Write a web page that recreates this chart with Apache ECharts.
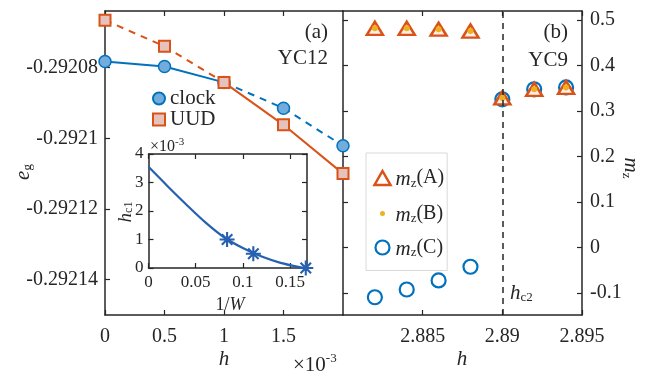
<!DOCTYPE html>
<html>
<head>
<meta charset="utf-8">
<script src="https://cdn.jsdelivr.net/npm/echarts@6/dist/echarts.min.js"></script>
<style>
  html, body { margin: 0; padding: 0; background: #fff; }
  #main { width: 657px; height: 373px; }
</style>
</head>
<body>
<div id="main"></div>
<script>
// panel (a): ground-state energy vs h (x 1e-3)
var hLeft = [0, 0.5, 1, 1.5, 2];
var egClock = [-0.2920783, -0.2920797, -0.2920842, -0.2920915, -0.2921021];
var egUUD = [-0.2920666, -0.2920740, -0.2920842, -0.2920962, -0.2921100];
var egTicks = [-0.29214, -0.29212, -0.2921, -0.29208];
var hLeftTicks = [0, 0.5, 1, 1.5];

// inset: hc1 vs 1/W
var invW = [0.0833, 0.1111, 0.1667];
var hc1 = [1.0, 0.5, 0.0];
var fitX = [0, 0.02, 0.04, 0.06, 0.08, 0.10, 0.12, 0.14, 0.16, 0.1667];
var fitY = [3.55, 2.88, 2.23, 1.61, 1.08, 0.70, 0.40, 0.18, 0.03, 0.0];
var invWTicks = [0, 0.05, 0.1, 0.15];
var hc1Ticks = [0, 1, 2, 3, 4];

// panel (b): mz vs h
var hRight = [2.882, 2.884, 2.886, 2.888, 2.89, 2.892, 2.894];
var mzA = [0.482, 0.482, 0.480, 0.476, 0.329, 0.348, 0.352];
var mzB = [0.482, 0.482, 0.480, 0.476, 0.329, 0.348, 0.352];
var mzC = [-0.109, -0.092, -0.072, -0.042, 0.326, 0.348, 0.352];
var hc2 = 2.89;
var hRightTicks = [2.885, 2.89, 2.895];
var mzTicks = [-0.1, 0, 0.1, 0.2, 0.3, 0.4, 0.5];

var FONT = 'Liberation Serif';
var INK = '#262626';
var BLUE = '#0072BD';
var RED = '#D95319';
var YEL = '#EDB120';

function pairs(xs, ys) {
  return xs.map(function (x, i) { return [x, ys[i]]; });
}
function fmt(v) { return String(parseFloat(v.toFixed(5))); }

// one side of an axis box
function axis(grid, pos, min, max, ticks, showLabel, fontSize) {
  return {
    type: 'value', gridIndex: grid, position: pos, min: min, max: max,
    axisLine: { show: true, onZero: false, lineStyle: { color: INK, width: 1.5 } },
    axisTick: { show: true, inside: true, length: 5, customValues: ticks,
      lineStyle: { color: INK, width: 1.2 } },
    axisLabel: { show: showLabel, customValues: ticks, formatter: fmt,
      fontFamily: FONT, fontSize: fontSize || 20, color: INK, margin: 8 },
    splitLine: { show: false }
  };
}

var xAxes = [
  axis(0, 'bottom', 0, 2, hLeftTicks, true),
  axis(0, 'top', 0, 2, hLeftTicks, false),
  axis(1, 'bottom', 2.88, 2.895, hRightTicks, true),
  axis(1, 'top', 2.88, 2.895, hRightTicks, false),
  axis(2, 'bottom', 0, 0.168, invWTicks, true, 17),
  axis(2, 'top', 0, 0.168, invWTicks, false)
];
xAxes[0].axisLabel.margin = 12;
xAxes[2].axisLabel.margin = 12;
xAxes[4].axisLabel.margin = 6;

var yAxes = [
  axis(0, 'left', -0.29215, -0.292064, egTicks, true),
  axis(1, 'left', -0.148, 0.52, mzTicks, false),
  axis(1, 'right', -0.148, 0.52, mzTicks, true),
  axis(2, 'left', 0, 4, hc1Ticks, true, 17),
  axis(2, 'right', 0, 4, hc1Ticks, false)
];
yAxes[0].axisLabel.margin = 7;
yAxes[3].axisLabel.margin = 5;

var sub = { fontFamily: FONT, fontSize: 13, color: INK, verticalAlign: 'bottom', lineHeight: 13 };
var ital = { fontFamily: FONT, fontSize: 21, fontStyle: 'italic', color: INK, lineHeight: 24, verticalAlign: 'bottom' };
var norm = { fontFamily: FONT, fontSize: 21, color: INK, lineHeight: 24, verticalAlign: 'bottom' };

// asterisk marker, four bars of the same winding
var STAR = 'path://M8.6 0H11.4V20H8.6Z M0 8.6H20V11.4H0Z M2 4L4 2L18 16L16 18Z M16 2L18 4L4 18L2 16Z';

function txt(x, y, text, rich, align, rot) {
  return {
    type: 'text', x: x, y: y, rotation: rot || 0, z: 50,
    style: { text: text, rich: rich, align: align || 'center', verticalAlign: 'middle',
      fontFamily: FONT, fontSize: 21, fill: INK }
  };
}

var chart = echarts.init(document.getElementById('main'));
var option = {
  animation: false,
  backgroundColor: '#fff',
  grid: [
    { left: 105, top: 11, width: 238, height: 304 },
    { left: 343, top: 11, width: 239, height: 304 },
    { left: 148.5, top: 154, width: 158.5, height: 114, show: true,
      backgroundColor: '#fff', borderWidth: 0 }
  ],
  xAxis: xAxes,
  yAxis: yAxes,
  legend: [
    {
      orient: 'vertical', left: 152, top: 88, padding: 0, itemGap: 0,
      itemWidth: 12, itemHeight: 12,
      textStyle: { fontFamily: FONT, fontSize: 21, color: INK, lineHeight: 20 },
      data: ['clock', 'UUD']
    },
    {
      orient: 'vertical', left: 366, top: 153, padding: [15, 3, 11, 5], itemGap: 12,
      itemWidth: 16, itemHeight: 14, backgroundColor: '#fff',
      borderColor: '#d9d9d9', borderWidth: 1, borderRadius: 0,
      formatter: function (n) { return '{i|m}{s|z}(' + n + ')'; },
      textStyle: { fontFamily: FONT, fontSize: 20, color: INK,
        rich: { i: ital, s: sub } },
      data: [
        { name: 'A', icon: 'triangle', itemStyle: { color: '#fff', borderColor: RED, borderWidth: 2.5 } },
        { name: 'B', icon: 'circle', itemStyle: { color: YEL, borderColor: '#fff', borderWidth: 9 } },
        { name: 'C', icon: 'circle', itemStyle: { color: '#fff', borderColor: BLUE, borderWidth: 2.2 } }
      ]
    }
  ],
  series: [
    // panel (a) lines
    { type: 'line', xAxisIndex: 0, yAxisIndex: 0, data: pairs(hLeft, egClock).slice(0, 3),
      showSymbol: false, clip: false, lineStyle: { color: BLUE, width: 2 }, z: 2 },
    { type: 'line', xAxisIndex: 0, yAxisIndex: 0, data: pairs(hLeft, egClock).slice(2),
      showSymbol: false, clip: false, lineStyle: { color: BLUE, width: 2, type: [7, 6] }, z: 2 },
    { type: 'line', xAxisIndex: 0, yAxisIndex: 0, data: pairs(hLeft, egUUD).slice(0, 3),
      showSymbol: false, clip: false, lineStyle: { color: RED, width: 2, type: [7, 6] }, z: 2 },
    { type: 'line', xAxisIndex: 0, yAxisIndex: 0, data: pairs(hLeft, egUUD).slice(2),
      showSymbol: false, clip: false, lineStyle: { color: RED, width: 2 }, z: 2 },
    { name: 'clock', type: 'scatter', xAxisIndex: 0, yAxisIndex: 0, data: pairs(hLeft, egClock),
      symbol: 'circle', symbolSize: 12, clip: false, z: 3,
      itemStyle: { color: '#72acdc', borderColor: BLUE, borderWidth: 1.5, opacity: 1 } },
    { name: 'UUD', type: 'scatter', xAxisIndex: 0, yAxisIndex: 0, data: pairs(hLeft, egUUD),
      symbol: 'rect', symbolSize: 11, clip: false, z: 3,
      itemStyle: { color: '#e6c2bc', borderColor: RED, borderWidth: 2, opacity: 1 } },

    // panel (b)
    { name: 'C', type: 'scatter', xAxisIndex: 2, yAxisIndex: 1, data: pairs(hRight, mzC),
      symbol: 'circle', symbolSize: 14, clip: false, z: 3,
      itemStyle: { color: 'rgba(0,0,0,0)', borderColor: BLUE, borderWidth: 2.2, opacity: 1 } },
    { name: 'A', type: 'scatter', xAxisIndex: 2, yAxisIndex: 1, data: pairs(hRight, mzA),
      symbol: 'triangle', symbolSize: [16, 13], clip: false, z: 3,
      itemStyle: { color: '#fbeee8', borderColor: RED, borderWidth: 2.5, opacity: 1 } },
    { name: 'B', type: 'scatter', xAxisIndex: 2, yAxisIndex: 1, data: pairs(hRight, mzB),
      symbol: 'circle', symbolSize: 6, clip: false, z: 4,
      itemStyle: { color: YEL, opacity: 1 },
      markLine: { silent: true, symbol: ['none', 'none'], label: { show: false },
        lineStyle: { type: [6, 5], color: INK, width: 1.5 },
        data: [{ xAxis: hc2 }] } },

    // inset
    { type: 'line', xAxisIndex: 4, yAxisIndex: 3, data: pairs(fitX, fitY),
      smooth: 0.3,
      showSymbol: false, lineStyle: { color: '#2660b0', width: 2.2 }, z: 5 },
    { type: 'scatter', xAxisIndex: 4, yAxisIndex: 3, data: pairs(invW, hc1), clip: false,
      symbol: STAR, symbolSize: 15, z: 6, itemStyle: { color: '#2660b0', opacity: 1 } }
  ],
  graphic: [
    txt(22, 172, '{i|e}{s|g}', { i: ital, s: sub }, 'center', Math.PI / 2),
    txt(632, 168, '{i|m}{s|z}', { i: ital, s: sub }, 'center', -Math.PI / 2),
    txt(224, 358, '{i|h}', { i: ital }),
    txt(462, 358, '{i|h}', { i: ital }),
    txt(293, 364, '{n|\u00d710}{p|-3}', { n: norm,
      p: { fontFamily: FONT, fontSize: 13, color: INK, verticalAlign: 'top', lineHeight: 13 } }, 'left'),
    txt(328, 31, '{n|(a)}', { n: norm }, 'right'),
    txt(328, 57, '{n|YC12}', { n: norm }, 'right'),
    txt(568, 31, '{n|(b)}', { n: norm }, 'right'),
    txt(568, 59, '{n|YC9}', { n: norm }, 'right'),
    txt(510, 292, '{i|h}{s|c2}', { i: ital, s: sub }, 'left'),
    txt(150, 146, '{n|\u00d710}{p|-3}', {
      n: { fontFamily: FONT, fontSize: 16, color: INK, lineHeight: 18, verticalAlign: 'bottom' },
      p: { fontFamily: FONT, fontSize: 11, color: INK, verticalAlign: 'top', lineHeight: 11 } }, 'left'),
    txt(230, 304, '{n|1/}{i|W}', {
      n: { fontFamily: FONT, fontSize: 18, color: INK, lineHeight: 20, verticalAlign: 'bottom' },
      i: { fontFamily: FONT, fontSize: 18, fontStyle: 'italic', color: INK, lineHeight: 20, verticalAlign: 'bottom' } }),
    txt(124, 212, '{i|h}{s|c1}', {
      i: { fontFamily: FONT, fontSize: 19, fontStyle: 'italic', color: INK, lineHeight: 22, verticalAlign: 'bottom' },
      s: { fontFamily: FONT, fontSize: 12, color: INK, lineHeight: 12, verticalAlign: 'bottom' } }, 'center', Math.PI / 2)
  ]
};
chart.setOption(option);
</script>
</body>
</html>
